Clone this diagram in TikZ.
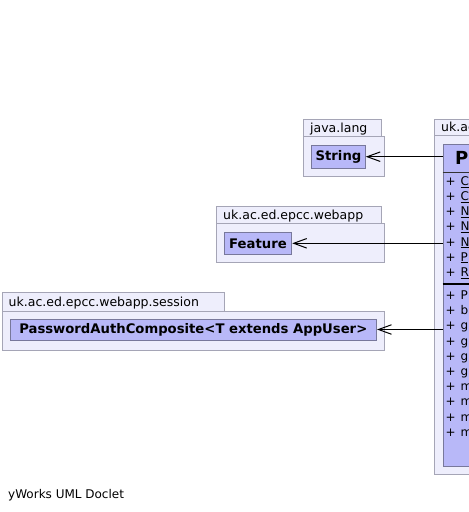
\documentclass[tikz,border=0pt]{standalone}
\usepackage{fontspec}
\setmainfont{DejaVu Sans}
\usetikzlibrary{arrows.meta}
\definecolor{pkgfill}{RGB}{238,238,252}
\definecolor{pkgline}{RGB}{165,165,182}
\definecolor{clsfill}{RGB}{184,184,248}
\definecolor{clsline}{RGB}{120,120,155}
\begin{document}
\begin{tikzpicture}[x=1pt,y=-1pt,
  pkg/.style={draw=pkgline, fill=pkgfill, line width=1pt},
  cls/.style={draw=clsline, fill=clsfill, line width=1pt, inner sep=0pt,
    font=\bfseries\fontsize{13.2}{15}\selectfont},
  lbl/.style={anchor=base west, inner sep=0pt, font=\fontsize{12.5}{14}\selectfont},
  row/.style={anchor=base west, inner sep=0pt, font=\fontsize{12}{14}\selectfont},
  dep/.style={line width=1pt, -{Straight Barb[length=13pt,width=9.5pt,line width=1pt]}}]
\useasboundingbox (0,0) rectangle (469,512);
\fill[white] (0,0) rectangle (469,512);

% package java.lang
\draw[pkg] (303.5,119.5) rectangle (381,136.5);
\draw[pkg] (303.5,136.5) rectangle (384.5,176);
\node[lbl] (jl) at (310,132.5) {java.lang};
\node[cls, minimum width=53.5pt, minimum height=23.3pt] (string) at (338.5,156.7) {String};

% package uk.ac.ed.epcc.webapp
\draw[pkg] (216.5,206.5) rectangle (381.5,223.5);
\draw[pkg] (216.5,223.5) rectangle (384.5,262.7);
\node[lbl] (wa) at (223,219.5) {uk.ac.ed.epcc.webapp};
\node[cls, minimum width=67.5pt, minimum height=22pt] (feature) at (258,243.3) {Feature};

% package uk.ac.ed.epcc.webapp.session
\draw[pkg] (2.5,292) rectangle (224,311);
\draw[pkg] (2.5,311) rectangle (384.5,350);
\node[lbl] (ses) at (8.5,306) {uk.ac.ed.epcc.webapp.session};
\node[cls, minimum width=366.5pt, minimum height=21pt] (pac) at (193.3,329.5) {PasswordAuthComposite<T extends AppUser>};

% package uk.ac (cropped in the reference)
\draw[pkg] (434.5,119) rectangle (530,135.5);
\draw[pkg] (434.5,135.5) rectangle (530,474);
\node[lbl] (uk) at (441,131.5) {uk.ac};

% big class (cropped in the reference)
\node[draw=clsline, fill=clsfill, line width=1pt, anchor=north west, inner sep=0pt,
  minimum width=90pt, minimum height=322.3pt] (P) at (442.5,143.7) {};
\draw[line width=1pt, black!80] (442.5,172.7) -- (532.5,172.7);
\draw[line width=2pt, black] (442.5,284) -- (532.5,284);
\node[anchor=base west, inner sep=0pt, font=\bfseries\fontsize{18}{20}\selectfont] (Pt) at (455,164.5) {P};

\foreach \t [count=\i from 0] in {C,C,N,N,N,P,R} {
  \node[row] (ap\i) at (445.5,185.4+15.17*\i) {+};
  \node[row] (at\i) at (460.5,185.4+15.17*\i) {\underline{\t}};
}
\foreach \t [count=\i from 0] in {P,b,g,g,g,g,m,m,m,m} {
  \node[row] (mp\i) at (445.5,299.4+15.2*\i) {+};
  \node[row] (mt\i) at (460.5,299.4+15.2*\i) {\t};
}

% dependencies
\draw[dep] (P.west |- string.east) -- (string.east);
\draw[dep] (P.west |- feature.east) -- (feature.east);
\draw[dep] (P.west |- pac.east) -- (pac.east);

\node[row] (foot) at (8,498) {yWorks UML Doclet};
\end{tikzpicture}
\end{document}
